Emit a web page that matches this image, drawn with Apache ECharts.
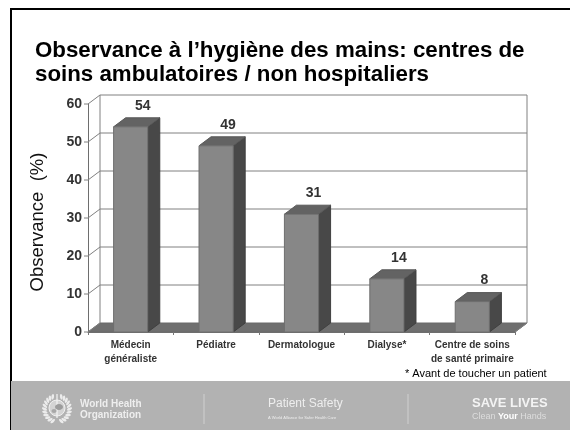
<!DOCTYPE html>
<html><head><meta charset="utf-8">
<style>html,body{margin:0;padding:0;background:#fff}#c{width:570px;height:430px}</style>
<script src="https://cdn.jsdelivr.net/npm/echarts@6/dist/echarts.min.js"></script>
</head><body><div id="c"></div>
<script>
const categories = ['Médecin\ngénéraliste','Pédiatre','Dermatologue','Dialyse*','Centre de soins\nde santé primaire'];
const values = [54,49,31,14,8];
const yTicks = [0,10,20,30,40,50,60];
const titleText = 'Observance à l’hygiène des mains: centres de\nsoins ambulatoires / non hospitaliers';
const yAxisName = 'Observance  (%)';
const footnote = '* Avant de toucher un patient';

const DX = 12, DY = 9, sans = 'Liberation Sans';
const chart = echarts.init(document.getElementById('c'), null, {renderer:'canvas'});
const txt = (x,y,text,o) => ({type:'text',left:x,top:y,silent:true,style:Object.assign({text,fontFamily:sans,fill:'#fff'},o)});

// WHO-style emblem: decorative globe inside two laurel branches
const emblem = [];
const ecx = 57, ecy = 409;
for (let a = 20; a <= 165; a += 14) {
  [1,-1].forEach(s => {
    const rad = a*Math.PI/180;
    emblem.push({type:'ellipse',silent:true,z:2,
      shape:{cx:ecx+s*12.5*Math.sin(rad),cy:ecy-13*Math.cos(rad),rx:1.3,ry:2.8},
      rotation:-s*rad+s*0.5,originX:ecx+s*12.5*Math.sin(rad),originY:ecy-13*Math.cos(rad),
      style:{fill:'#ececec'}});
  });
}
emblem.push({type:'circle',silent:true,z:2,shape:{cx:ecx,cy:ecy-1,r:8},style:{fill:'#d4d4d4',stroke:'#f0f0f0',lineWidth:1}});
emblem.push({type:'line',silent:true,z:3,shape:{x1:ecx,y1:ecy-15,x2:ecx,y2:ecy+9},style:{stroke:'#f4f4f4',lineWidth:1.2}});
emblem.push({type:'ellipse',silent:true,z:3,shape:{cx:ecx+2,cy:ecy-2,rx:4,ry:3},style:{fill:'#9c9c9c'}});
emblem.push({type:'ellipse',silent:true,z:3,shape:{cx:ecx-3,cy:ecy+2,rx:2.5,ry:2},style:{fill:'#a8a8a8'}});

chart.setOption({
  animation:false,
  backgroundColor:'#fff',
  grid:{left:88,right:55,top:104,bottom:98,containLabel:false},
  xAxis:{type:'category',data:categories,boundaryGap:true,
    axisLine:{show:true,lineStyle:{color:'#6e6e6e',width:1}},
    axisTick:{show:true,alignWithLabel:false,length:3,lineStyle:{color:'#777'}},
    axisLabel:{color:'#333',fontFamily:sans,fontWeight:'bold',fontSize:10,lineHeight:14,margin:6,interval:0},
    z:5},
  yAxis:{type:'value',min:0,max:60,interval:10,
    name:yAxisName,nameLocation:'middle',nameRotate:90,nameGap:41,
    nameTextStyle:{color:'#111',fontFamily:sans,fontSize:18.5,padding:[0,8,0,0]},
    axisLine:{show:true,lineStyle:{color:'#6e6e6e'}},
    axisTick:{show:false},
    splitLine:{show:false},
    axisLabel:{color:'#333',fontFamily:sans,fontWeight:'bold',fontSize:14,margin:6}},
  series:[
    {type:'custom',coordinateSystem:'cartesian2d',z:1,silent:true,clip:false,
     encode:{y:0},data:yTicks.map(v=>[v]),
     renderItem(p,api){
       const v=api.value(0), cs=p.coordSys, l=cs.x, r=cs.x+cs.width, y=api.coord([0,v])[1];
       const line=(a,b,c,d)=>({type:'line',shape:{x1:a,y1:b,x2:c,y2:d},style:{stroke:'#808080',lineWidth:1}});
       const ch=[line(l,y,l+DX,y-DY)];
       if(v>0) ch.push(line(l+DX,y-DY,r+DX,y-DY));
       ch.push(line(l-4,y,l,y));
       if(v===0){
         ch.unshift({type:'polygon',shape:{points:[[l,y],[l+DX,y-DY],[r+DX,y-DY],[r,y]]},style:{fill:'#6f6f6f',stroke:'#6a6a6a'}});
         ch.push(line(l+DX,y-DY,l+DX,cs.y-DY));
         ch.push(line(r+DX,y-DY,r+DX,cs.y-DY));
         ch.push(line(r,y,r+DX,y-DY));
       }
       return {type:'group',children:ch};
     }},
    {type:'custom',coordinateSystem:'cartesian2d',z:3,silent:true,clip:false,
     encode:{x:0,y:1},data:values.map((v,i)=>[i,v]),
     renderItem(p,api){
       const pt=api.coord([api.value(0),api.value(1)]), base=api.coord([api.value(0),0]);
       const w=api.size([1,0])[0]*0.4, x=pt[0]-w/2, y=pt[1], b=base[1];
       return {type:'group',children:[
         {type:'polygon',shape:{points:[[x+w,y],[x+w+DX,y-DY],[x+w+DX,b-DY],[x+w,b]]},style:{fill:'#484848',stroke:'#3f3f3f'}},
         {type:'polygon',shape:{points:[[x,y],[x+DX,y-DY],[x+w+DX,y-DY],[x+w,y]]},style:{fill:'#636363',stroke:'#585858'}},
         {type:'rect',shape:{x,y,width:w,height:b-y},style:{fill:'#878787',stroke:'#6e6e6e'}},
         {type:'text',style:{text:String(api.value(1)),x:x+w/2+DX,y:y-DY-5,align:'center',verticalAlign:'bottom',fontFamily:sans,fontWeight:'bold',fontSize:14,fill:'#333'}}
       ]};
     }}
  ],
  graphic:[
    {type:'rect',left:10,top:8,shape:{width:570,height:430},silent:true,z:-1,style:{fill:'#fff',stroke:'#000',lineWidth:2}},
    {type:'rect',left:11,top:381,shape:{width:559,height:49},silent:true,z:-1,style:{fill:'#b2b2b2'}},
    {type:'text',left:35,top:39,silent:true,style:{text:titleText,fontFamily:sans,fontWeight:'bold',fontSize:22.3,lineHeight:24,fill:'#000'}},
    {type:'text',left:405,top:368,silent:true,style:{text:footnote,fontFamily:sans,fontSize:11,fill:'#000'}},
    {type:'group',silent:true,children:emblem},
    txt(80,399,'World Health\nOrganization',{fontWeight:'bold',fontSize:10,lineHeight:11,fill:'#eee'}),
    {type:'line',shape:{x1:204,y1:394,x2:204,y2:424},silent:true,style:{stroke:'#d0d0d0'}},
    txt(268,398,'Patient Safety',{fontSize:12,fill:'#eee'}),
    txt(268,416,'A World Alliance for Safer Health Care',{fontSize:4,fill:'#eee'}),
    {type:'line',shape:{x1:408,y1:394,x2:408,y2:424},silent:true,style:{stroke:'#d0d0d0'}},
    txt(472,397,'SAVE LIVES',{fontWeight:'bold',fontSize:13,fill:'#f4f4f4'}),
    {type:'text',left:472,top:412,silent:true,style:{text:'Clean {b|Your} Hands',fontFamily:sans,fontSize:9,fill:'#ddd',rich:{b:{fontFamily:sans,fontWeight:'bold',fontSize:9,fill:'#fff'}}}}
  ]
});
</script></body></html>
